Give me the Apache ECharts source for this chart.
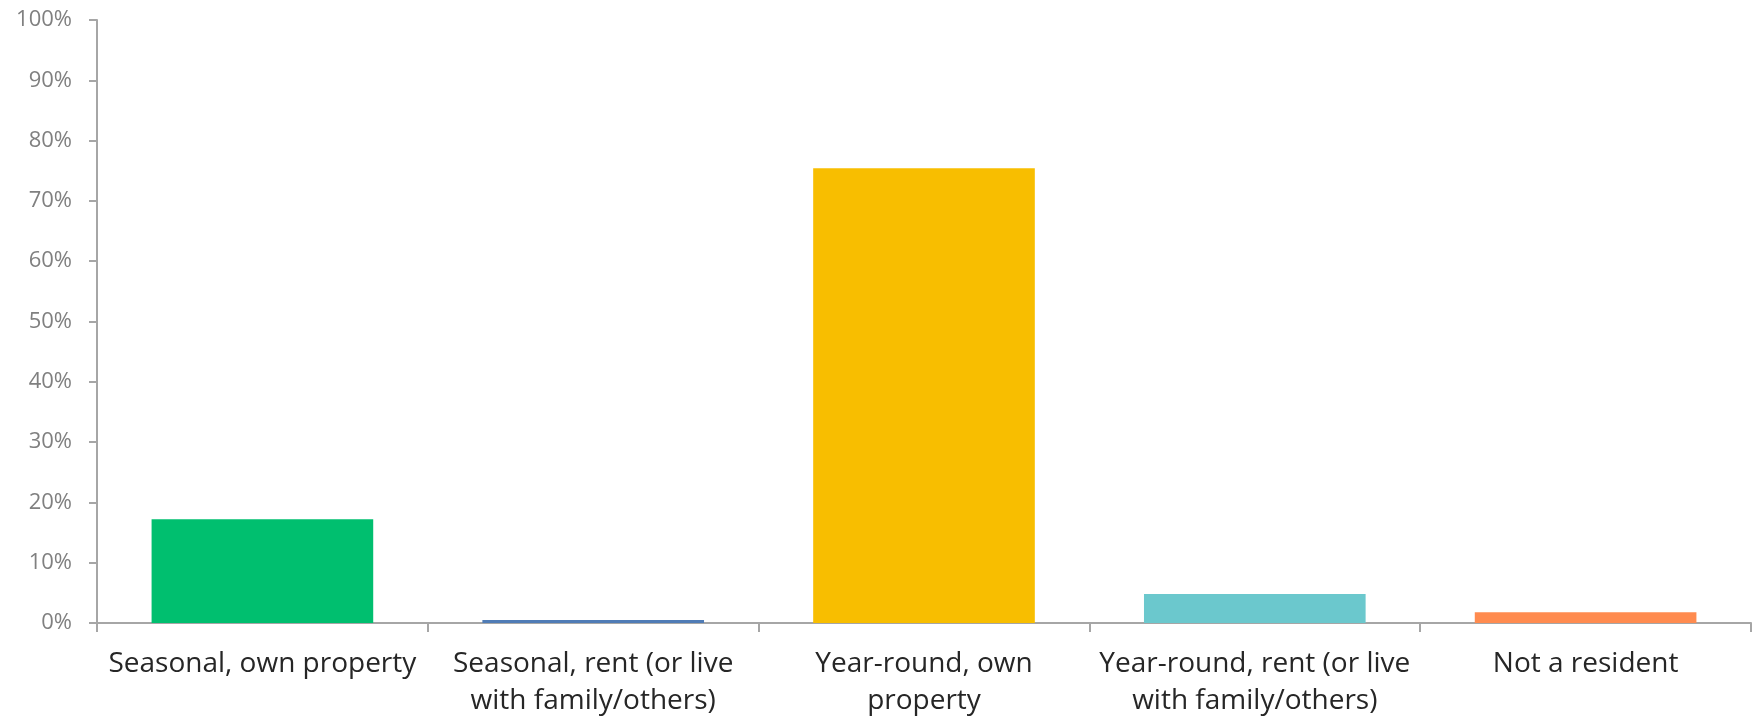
<!DOCTYPE html>
<html><head><meta charset="utf-8">
<script src="https://cdn.jsdelivr.net/npm/echarts@6/dist/echarts.min.js"></script>
<style>html,body{margin:0;padding:0;background:#fff;overflow:hidden;width:1752px;height:721px}#c{width:1752px;height:721px}</style>
</head><body><div id="c"></div>
<script>
const categories = ["Seasonal, own property", "Seasonal, rent (or live\nwith family/others)", "Year-round, own\nproperty", "Year-round, rent (or live\nwith family/others)", "Not a resident"];
const values = [17.2, 0.5, 75.4, 4.8, 1.8];
const barColors = ["#00BF6F", "#507CB6", "#F8BE00", "#6BC8CD", "#FF8B4F"];
const yTicks = [0, 10, 20, 30, 40, 50, 60, 70, 80, 90, 100];

const chart = echarts.init(document.getElementById('c'));
chart.setOption({
  animation: false,
  grid: {left: 97, right: 1, top: 20, bottom: 98, containLabel: false, outerBoundsMode: 'none'},
  xAxis: {
    type: 'category', data: categories,
    axisLine: {lineStyle: {color: '#a6a6a6', width: 2}},
    axisTick: {show: true, length: 9, lineStyle: {color: '#a6a6a6', width: 2}},
    axisLabel: {color: '#262626', fontFamily: 'Open Sans', fontSize: 28, lineHeight: 37, margin: 23, interval: 0}
  },
  yAxis: {
    type: 'value', min: 0, max: yTicks[yTicks.length-1], interval: 10,
    splitLine: {show: false},
    axisLine: {show: true, lineStyle: {color: '#a6a6a6', width: 2}},
    axisTick: {show: true, length: 8, lineStyle: {color: '#a6a6a6', width: 2}},
    axisLabel: {color: '#808080', fontFamily: 'Open Sans', fontSize: 22, margin: 25, formatter: v => v + '%'}
  },
  series: [{
    type: 'bar', barWidth: '67%',
    data: values.map((v, i) => ({value: v, itemStyle: {color: barColors[i]}}))
  }]
});
</script></body></html>
